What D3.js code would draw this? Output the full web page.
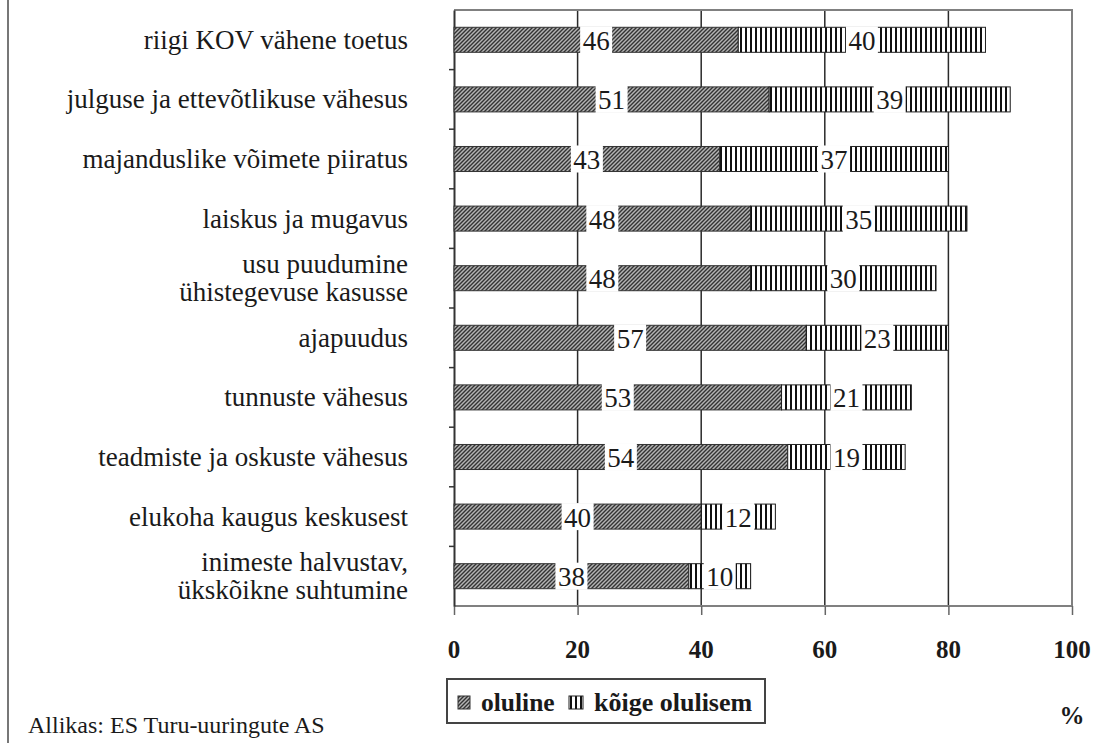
<!DOCTYPE html>
<html>
<head>
<meta charset="utf-8">
<script src="https://cdn.jsdelivr.net/npm/d3@7"></script>
<style>
  body { margin: 0; background: #fff; }
  svg text { font-family: "Liberation Serif", "Times New Roman", serif; }
</style>
</head>
<body>
<div class="chart"></div>
<script>
//Width and height
var w = 1095;
var h = 743;

// plot area
margin = ({top: 10, right: 23, bottom: 137, left: 454});

var serifFont = "'Liberation Serif', 'Times New Roman', serif";

// data
var categories = [
    ["riigi KOV vähene toetus"],
    ["julguse ja ettevõtlikuse vähesus"],
    ["majanduslike võimete piiratus"],
    ["laiskus ja mugavus"],
    ["usu puudumine", "ühistegevuse kasusse"],
    ["ajapuudus"],
    ["tunnuste vähesus"],
    ["teadmiste ja oskuste vähesus"],
    ["elukoha kaugus keskusest"],
    ["inimeste halvustav,", "ükskõikne suhtumine"]
];
var oluline = [46, 51, 43, 48, 48, 57, 53, 54, 40, 38];
var koigeOlulisem = [40, 39, 37, 35, 30, 23, 21, 19, 12, 10];
var xTicks = [0, 20, 40, 60, 80, 100];
var seriesNames = ["oluline", "kõige olulisem"];

var rows = categories.map(function(c, i) {
    return {id: i, label: c, oluline: oluline[i], koige: koigeOlulisem[i]};
});

var svg = d3.select(".chart")
    .append("svg")
    .attr("width", w)
    .attr("height", h);

// patterns for the two series
var defs = svg.append("defs");
var hatch = defs.append("pattern")
    .attr("id", "hatch")
    .attr("patternUnits", "userSpaceOnUse")
    .attr("width", 4).attr("height", 4);
hatch.append("rect").attr("width", 4).attr("height", 4).attr("fill", "#b4b4b4");
hatch.append("path")
    .attr("d", "M-1,1 l2,-2 M0,4 l4,-4 M3,5 l2,-2")
    .attr("stroke", "#333").attr("stroke-width", 1.4);

var stripes = defs.append("pattern")
    .attr("id", "stripes")
    .attr("patternUnits", "userSpaceOnUse")
    .attr("width", 5).attr("height", 10);
stripes.append("rect").attr("width", 5).attr("height", 10).attr("fill", "#fff");
stripes.append("rect").attr("width", 2).attr("height", 10).attr("fill", "#111");

// scales
var xScale = d3.scaleLinear()
    .domain([0, 100])
    .range([margin.left, w - margin.right]);

var yScale = d3.scaleBand()
    .domain(rows.map(function(d) { return d.id; }))
    .range([margin.top, h - margin.bottom])
    .paddingInner(0.58)
    .paddingOuter(0.29);

// gridlines
svg.append("g")
    .selectAll("line")
    .data(xTicks.filter(function(t) { return t > 0 && t < 100; }))
    .enter()
    .append("line")
    .attr("x1", function(d) { return xScale(d); })
    .attr("x2", function(d) { return xScale(d); })
    .attr("y1", margin.top)
    .attr("y2", h - margin.bottom)
    .attr("stroke", "#2a2a2a")
    .attr("stroke-width", 1.5);

// frame top / right / bottom
svg.append("path")
    .attr("d", "M" + xScale(0) + "," + margin.top + "H" + xScale(100) + "V" + (h - margin.bottom) + "H" + xScale(0))
    .attr("fill", "none")
    .attr("stroke", "#808080")
    .attr("stroke-width", 2);

// x axis (ticks only, labels below)
var xAxis = d3.axisBottom(xScale).tickValues(xTicks).tickSize(9).tickFormat("");
svg.append("g")
    .attr("class", "x-axis")
    .attr("transform", "translate(0," + (h - margin.bottom) + ")")
    .call(xAxis)
    .call(function(g) {
        g.select(".domain").remove();
        g.selectAll(".tick line").attr("stroke", "#666").attr("stroke-width", 1.5);
    });

svg.append("g")
    .selectAll("text")
    .data(xTicks)
    .enter()
    .append("text")
    .attr("x", function(d) { return xScale(d); })
    .attr("y", 649)
    .attr("text-anchor", "middle")
    .attr("dominant-baseline", "central")
    .attr("fill", "#1a1a1a")
    .style("font-family", serifFont)
    .style("font-size", "25px")
    .style("font-weight", "bold")
    .text(function(d) { return d; });

// y axis with small ticks between categories
var yAxis = d3.axisLeft(yScale).tickSize(0).tickFormat("");
svg.append("g")
    .attr("class", "y-axis")
    .attr("transform", "translate(" + margin.left + ",0)")
    .call(yAxis)
    .call(function(g) {
        g.select(".domain").attr("stroke", "#333").attr("stroke-width", 2);
    });

svg.append("g")
    .selectAll("line")
    .data(rows.slice(1))
    .enter()
    .append("line")
    .attr("x1", margin.left - 5)
    .attr("x2", margin.left)
    .attr("y1", function(d) { return yScale(d.id) - yScale.step() * yScale.paddingInner() / 2; })
    .attr("y2", function(d) { return yScale(d.id) - yScale.step() * yScale.paddingInner() / 2; })
    .attr("stroke", "#333")
    .attr("stroke-width", 1.5);

// bars
var barG = svg.append("g");
barG.selectAll("rect.oluline")
    .data(rows)
    .enter()
    .append("rect")
    .attr("class", "oluline")
    .attr("x", xScale(0))
    .attr("y", function(d) { return yScale(d.id); })
    .attr("width", function(d) { return xScale(d.oluline) - xScale(0); })
    .attr("height", yScale.bandwidth())
    .attr("fill", "url(#hatch)")
    .attr("stroke", "#333")
    .attr("stroke-width", 1);

barG.selectAll("rect.koige")
    .data(rows)
    .enter()
    .append("rect")
    .attr("class", "koige")
    .attr("x", function(d) { return xScale(d.oluline); })
    .attr("y", function(d) { return yScale(d.id); })
    .attr("width", function(d) { return xScale(d.oluline + d.koige) - xScale(d.oluline); })
    .attr("height", yScale.bandwidth())
    .attr("fill", "url(#stripes)")
    .attr("stroke", "#222")
    .attr("stroke-width", 1);

// value labels sit on white boxes in the middle of each segment
var labels = [];
rows.forEach(function(d) {
    labels.push({id: d.id, mid: d.oluline / 2, v: d.oluline});
    labels.push({id: d.id, mid: d.oluline + d.koige / 2, v: d.koige});
});

var lab = svg.append("g")
    .selectAll("g")
    .data(labels)
    .enter()
    .append("g")
    .attr("transform", function(d) {
        return "translate(" + xScale(d.mid) + "," + (yScale(d.id) + yScale.bandwidth() / 2) + ")";
    });

lab.append("rect")
    .attr("x", -16)
    .attr("y", -yScale.bandwidth() / 2 - 1)
    .attr("width", 32)
    .attr("height", yScale.bandwidth() + 2)
    .attr("fill", "#fff");

lab.append("text")
    .attr("text-anchor", "middle")
    .attr("dominant-baseline", "central")
    .attr("y", 1)
    .attr("fill", "#1a1a1a")
    .style("font-family", serifFont)
    .style("font-size", "27px")
    .text(function(d) { return d.v; });

// category labels
var cat = svg.append("g")
    .selectAll("text")
    .data(rows)
    .enter()
    .append("text")
    .attr("text-anchor", "end")
    .attr("dominant-baseline", "central")
    .attr("fill", "#1a1a1a")
    .style("font-family", serifFont)
    .style("font-size", "27px")
    .attr("x", 408)
    .attr("y", function(d) { return yScale(d.id) + yScale.bandwidth() / 2; });

cat.selectAll("tspan")
    .data(function(d) { return d.label.map(function(l, i) { return {t: l, i: i, n: d.label.length}; }); })
    .enter()
    .append("tspan")
    .attr("x", 408)
    .attr("dy", function(d) { return d.i == 0 ? (-(d.n - 1) * 14) : 28; })
    .text(function(d) { return d.t; });

// legend
var legend = svg.append("g");
legend.append("rect")
    .attr("x", 447).attr("y", 679)
    .attr("width", 318).attr("height", 44)
    .attr("fill", "#fff")
    .attr("stroke", "#444")
    .attr("stroke-width", 2);

legend.append("rect")
    .attr("x", 458).attr("y", 696).attr("width", 12).attr("height", 13)
    .attr("fill", "url(#hatch)").attr("stroke", "#333");
legend.append("text")
    .attr("x", 481).attr("y", 702)
    .attr("dominant-baseline", "central")
    .attr("fill", "#1a1a1a")
    .style("font-family", serifFont)
    .style("font-size", "25.5px").style("font-weight", "bold")
    .text(seriesNames[0]);

legend.append("rect")
    .attr("x", 569).attr("y", 696).attr("width", 14).attr("height", 13)
    .attr("fill", "url(#stripes)").attr("stroke", "#222");
legend.append("text")
    .attr("x", 594).attr("y", 702)
    .attr("dominant-baseline", "central")
    .attr("fill", "#1a1a1a")
    .style("font-family", serifFont)
    .style("font-size", "26px").style("font-weight", "bold")
    .text(seriesNames[1]);

// percent sign and source
svg.append("text")
    .attr("x", xScale(100)).attr("y", 715)
    .attr("text-anchor", "middle")
    .attr("dominant-baseline", "central")
    .attr("fill", "#1a1a1a")
    .style("font-family", serifFont)
    .style("font-size", "25px").style("font-weight", "bold")
    .text("%");

svg.append("text")
    .attr("x", 28).attr("y", 725)
    .attr("dominant-baseline", "central")
    .attr("fill", "#1a1a1a")
    .style("font-family", serifFont)
    .style("font-size", "24px")
    .text("Allikas: ES Turu-uuringute AS");

// outer frame left edge
svg.append("line")
    .attr("x1", 8).attr("x2", 8)
    .attr("y1", 0).attr("y2", h)
    .attr("stroke", "#777").attr("stroke-width", 2);
</script>
</body>
</html>
